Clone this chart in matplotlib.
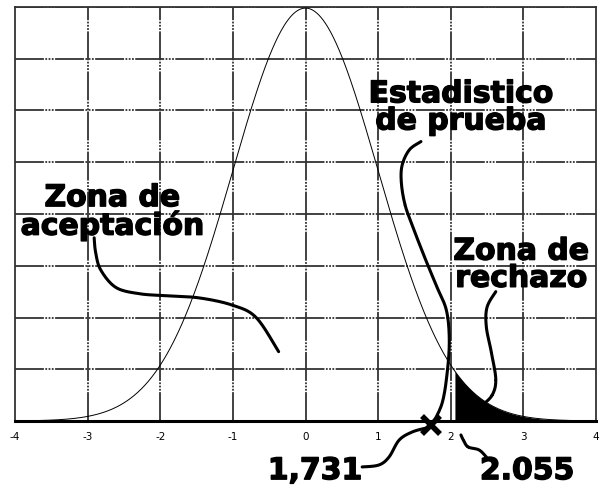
import numpy as np
import matplotlib
matplotlib.use("Agg")
import matplotlib.pyplot as plt
import matplotlib.patheffects as pe

plt.rcParams['axes.unicode_minus'] = False

# values
x_ticks = [-4, -3, -2, -1, 0, 1, 2, 3, 4]
y_grid = [0.0, 0.05, 0.10, 0.15, 0.20, 0.25, 0.30, 0.35, 0.40]
t_stat = 1.731
t_crit = 2.055
stat_label = "1,731"
crit_label = "2.055"

# leader lines (data coords)
lead_stat_x = [1.59, 1.43, 1.33, 1.32, 1.37, 1.47, 1.63, 1.80, 1.94, 1.98, 1.95, 1.88, 1.74]
lead_stat_y = [0.270, 0.262, 0.247, 0.230, 0.209, 0.189, 0.160, 0.131, 0.107, 0.078, 0.046, 0.017, -0.004]
lead_num_x = [0.78, 1.01, 1.15, 1.29, 1.47, 1.66]
lead_num_y = [-0.0444, -0.0425, -0.0348, -0.0184, -0.0106, -0.0068]
lead_crit_x = [2.14, 2.18, 2.24, 2.39, 2.49]
lead_crit_y = [-0.0135, -0.0193, -0.0251, -0.028, -0.0348]
lead_rech_x = [2.62, 2.50, 2.49, 2.56, 2.62, 2.57, 2.43]
lead_rech_y = [0.125, 0.110, 0.091, 0.066, 0.040, 0.025, 0.015]
lead_acep_x = [-2.91, -2.89, -2.82, -2.61, -2.29, -1.92, -1.47, -1.01, -0.68, -0.37]
lead_acep_y = [0.177, 0.163, 0.146, 0.129, 0.123, 0.121, 0.119, 0.112, 0.100, 0.067]


def smooth(xs, ys, n=20):
    # catmull-rom so the hand drawn leaders look round
    p = np.column_stack([xs, ys])
    p = np.vstack([p[0], p, p[-1]])
    out = []
    for i in range(1, len(p) - 2):
        p0, p1, p2, p3 = p[i - 1], p[i], p[i + 1], p[i + 2]
        t = np.linspace(0, 1, n)[:, None]
        out.append(0.5 * ((2 * p1) + (-p0 + p2) * t + (2 * p0 - 5 * p1 + 4 * p2 - p3) * t ** 2
                          + (-p0 + 3 * p1 - 3 * p2 + p3) * t ** 3))
    out = np.vstack(out)
    return out[:, 0], out[:, 1]


fig = plt.figure(figsize=(6.02, 4.90), dpi=100)
ax = fig.add_axes([15 / 602, 69 / 490, 581 / 602, 414 / 490])

x = np.linspace(-4, 4, 800)
pdf = np.exp(-x ** 2 / 2) / np.sqrt(2 * np.pi)

grid_style = dict(color="#333333", lw=1.3, ls=(0, (16, 0.8, 1, 0.8, 1, 0.8, 1, 0.8)), zorder=1)
for gx in x_ticks[1:-1]:
    ax.axvline(gx, **grid_style)
for gy in y_grid[1:]:
    ax.axhline(gy, **grid_style)

ax.plot(x, pdf, color="black", lw=0.7, zorder=3)
mask = x >= t_crit
ax.fill_between(x[mask], 0, pdf[mask], color="black", lw=0, zorder=3)

ax.set_xlim(-4, 4)
ax.set_ylim(0, 0.4)
ax.set_xticks(x_ticks)
ax.set_xticklabels([str(v) for v in x_ticks], fontsize=7.5)
ax.set_yticks([])
ax.tick_params(axis="x", length=0, pad=8)
for s in ["left", "right", "top"]:
    ax.spines[s].set_linewidth(1.3)
    ax.spines[s].set_color("#333333")
ax.spines["bottom"].set_linewidth(2.2)

lw_lead = 2.2
for xs, ys in [(lead_stat_x, lead_stat_y), (lead_num_x, lead_num_y), (lead_crit_x, lead_crit_y),
               (lead_rech_x, lead_rech_y), (lead_acep_x, lead_acep_y)]:
    sx, sy = smooth(xs, ys)
    ax.plot(sx, sy, color="black", lw=lw_lead, clip_on=False, zorder=4, solid_capstyle="round")

ax.plot([t_stat], [-0.004], marker="x", ms=13, mew=4, color="black", clip_on=False, zorder=5)

heavy = [pe.withStroke(linewidth=1.0, foreground="black")]
big = dict(fontsize=21.5, fontweight="bold", family="DejaVu Sans", ha="center", va="center",
           linespacing=0.92, zorder=6, path_effects=heavy)
ax.text(2.14, 0.303, "Estadistico\nde prueba", **big)
ax.text(-2.66, 0.202, "Zona de\naceptación", **big)
ax.text(2.97, 0.151, "Zona de\nrechazo", **big)
ax.text(0.13, -0.048, stat_label, clip_on=False, **dict(big, fontsize=21.5))
ax.text(3.05, -0.048, crit_label, clip_on=False, **dict(big, fontsize=21.5))

fig.savefig("out.png", dpi=100)
